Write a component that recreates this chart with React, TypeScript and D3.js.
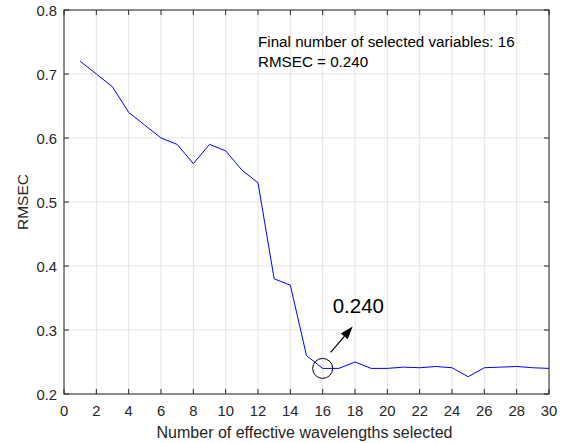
import React from "react";
import * as d3 from "d3";

// Number of effective wavelengths selected vs. RMSEC
const wavelengths = [
  1, 2, 3, 4, 5, 6, 7, 8, 9, 10, 11, 12, 13, 14, 15,
  16, 17, 18, 19, 20, 21, 22, 23, 24, 25, 26, 27, 28, 29, 30,
];
const rmsec = [
  0.72, 0.70, 0.68, 0.64, 0.62, 0.60, 0.59, 0.56, 0.59, 0.58, 0.55, 0.53, 0.38, 0.37, 0.26,
  0.240, 0.240, 0.250, 0.240, 0.240, 0.242, 0.241, 0.243, 0.241, 0.227, 0.241, 0.242, 0.243, 0.241, 0.240,
];
const xTicks = [0, 2, 4, 6, 8, 10, 12, 14, 16, 18, 20, 22, 24, 26, 28, 30];
const yTicks = [0.2, 0.3, 0.4, 0.5, 0.6, 0.7, 0.8];
const bestCount = 16;
const bestRmsec = 0.24;

const W = 566;
const H = 443;
const M = { left: 64, right: 17, top: 10, bottom: 49 };
const FONT = "'Liberation Sans', Arial, Helvetica, sans-serif";
const TXT = "#262626";

export default function App() {
  const x = d3.scaleLinear().domain([0, 30]).range([M.left, W - M.right]);
  const y = d3.scaleLinear().domain([0.2, 0.8]).range([H - M.bottom, M.top]);
  const line = d3
    .line<number>()
    .x((_, i) => x(wavelengths[i]))
    .y((d) => y(d));

  const x0 = M.left;
  const x1 = W - M.right;
  const y0 = H - M.bottom;
  const y1 = M.top;
  const tl = 5;

  const cx = x(bestCount);
  const cy = y(bestRmsec);
  const ax0 = cx + 8;
  const ay0 = cy - 16;
  const ax1 = cx + 30;
  const ay1 = cy - 42;
  const ang = Math.atan2(ay1 - ay0, ax1 - ax0);
  const hl = 13;
  const hw = 4.5;
  const bx = ax1 - hl * Math.cos(ang);
  const by = ay1 - hl * Math.sin(ang);
  const px = -Math.sin(ang);
  const py = Math.cos(ang);
  const head = `M${ax1},${ay1}L${bx + px * hw},${by + py * hw}L${bx - px * hw},${by - py * hw}Z`;

  return (
    <svg
      width={W}
      height={H}
      style={{ position: "absolute", left: 0, top: 0, background: "#fff" }}
      fontFamily={FONT}
    >
      <rect x={0} y={0} width={W} height={H} fill="#fff" />
      {/* grid */}
      {xTicks.map((t) => (
        <line key={"gx" + t} x1={x(t)} x2={x(t)} y1={y0} y2={y1} stroke="#e3e3e3" strokeWidth={1} />
      ))}
      {yTicks.map((t) => (
        <line key={"gy" + t} x1={x0} x2={x1} y1={y(t)} y2={y(t)} stroke="#e3e3e3" strokeWidth={1} />
      ))}
      {/* data line */}
      <path d={line(rmsec) ?? ""} fill="none" stroke="#0000ff" strokeWidth={1} />
      {/* ticks */}
      {xTicks.map((t) => (
        <g key={"tx" + t}>
          <line x1={x(t)} x2={x(t)} y1={y0} y2={y0 - tl} stroke={TXT} />
          <line x1={x(t)} x2={x(t)} y1={y1} y2={y1 + tl} stroke={TXT} />
          <text x={x(t)} y={y0 + 22} textAnchor="middle" fontSize={14.8} fill={TXT}>
            {t}
          </text>
        </g>
      ))}
      {yTicks.map((t) => (
        <g key={"ty" + t}>
          <line x1={x0} x2={x0 + tl} y1={y(t)} y2={y(t)} stroke={TXT} />
          <line x1={x1} x2={x1 - tl} y1={y(t)} y2={y(t)} stroke={TXT} />
          <text x={x0 - 7} y={y(t) + 5.5} textAnchor="end" fontSize={14.8} fill={TXT}>
            {t.toFixed(1)}
          </text>
        </g>
      ))}
      {/* frame */}
      <rect x={x0} y={y1} width={x1 - x0} height={y0 - y1} fill="none" stroke={TXT} strokeWidth={1} />
      {/* axis titles */}
      <text x={(x0 + x1) / 2 - 2} y={438} textAnchor="middle" fontSize={16} fill={TXT}>
        Number of effective wavelengths selected
      </text>
      <text
        transform={`translate(28,${(y0 + y1) / 2}) rotate(-90)`}
        textAnchor="middle"
        fontSize={15.5}
        fill={TXT}
      >
        RMSEC
      </text>
      {/* summary */}
      <text x={258} y={47} fontSize={15.2} fill="#000">
        Final number of selected variables: {bestCount}
      </text>
      <text x={258} y={67} fontSize={15.2} fill="#000">
        RMSEC = {bestRmsec.toFixed(3)}
      </text>
      {/* highlighted optimum */}
      <circle cx={cx} cy={cy} r={10} fill="none" stroke="#000" strokeWidth={1} />
      <line x1={ax0} y1={ay0} x2={bx} y2={by} stroke="#000" strokeWidth={1.2} />
      <path d={head} fill="#000" />
      <text x={cx + 10} y={cy - 55} fontSize={20.5} fill="#000">
        {bestRmsec.toFixed(3)}
      </text>
    </svg>
  );
}
